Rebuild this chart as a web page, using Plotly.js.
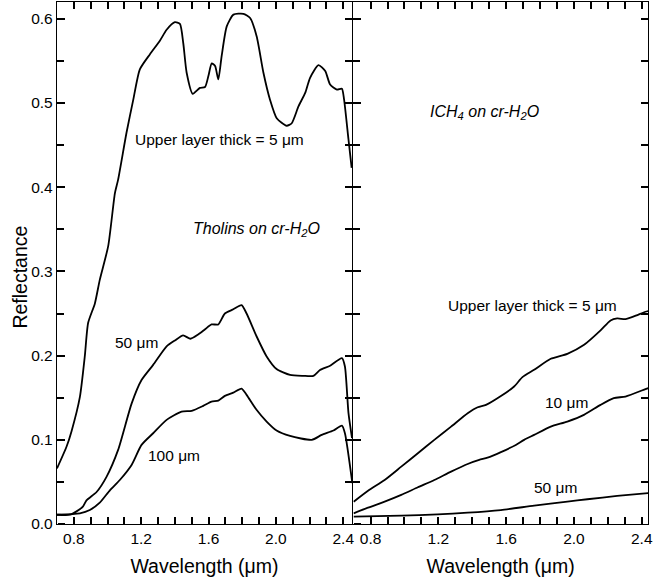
<!DOCTYPE html>
<html>
<head>
<meta charset="utf-8">
<script src="https://cdn.plot.ly/plotly-3.0.1.min.js"></script>
<style>html,body{margin:0;padding:0;background:#fff;}</style>
</head>
<body>
<div id="chart" style="width:670px;height:583px;"></div>
<script>
// ---- Tholins on cr-H2O (left panel) ----
const tholin5_x = [0.70,0.757,0.786,0.836,0.865,0.885,0.925,0.954,1.004,1.044,1.063,1.113,1.153,1.192,1.252,1.311,1.351,1.40,1.43,1.45,1.47,1.506,1.549,1.579,1.599,1.619,1.639,1.658,1.678,1.708,1.748,1.807,1.847,1.886,1.926,1.965,2.005,2.064,2.094,2.134,2.174,2.203,2.253,2.293,2.322,2.362,2.392,2.405,2.431,2.45];
const tholin5_y = [0.066,0.092,0.110,0.151,0.199,0.239,0.262,0.290,0.330,0.393,0.409,0.465,0.504,0.540,0.558,0.574,0.587,0.596,0.594,0.571,0.536,0.511,0.518,0.519,0.532,0.547,0.544,0.528,0.556,0.591,0.605,0.606,0.601,0.579,0.536,0.504,0.482,0.473,0.476,0.496,0.512,0.530,0.545,0.538,0.522,0.516,0.517,0.504,0.457,0.423];

const tholin50_x = [0.70,0.777,0.816,0.855,0.875,0.935,0.994,1.063,1.143,1.202,1.271,1.351,1.40,1.449,1.493,1.538,1.578,1.618,1.658,1.697,1.747,1.796,1.826,1.885,1.945,2.004,2.084,2.163,2.223,2.262,2.322,2.392,2.41,2.431,2.452];
const tholin50_y = [0.011,0.011,0.015,0.021,0.028,0.038,0.056,0.088,0.143,0.171,0.189,0.211,0.218,0.224,0.220,0.225,0.231,0.237,0.237,0.250,0.255,0.260,0.250,0.223,0.199,0.184,0.177,0.176,0.176,0.183,0.188,0.197,0.187,0.132,0.102];

const tholin100_x = [0.70,0.836,0.895,0.954,1.014,1.073,1.143,1.202,1.271,1.351,1.44,1.50,1.568,1.618,1.658,1.697,1.747,1.796,1.826,1.885,1.945,2.004,2.084,2.213,2.272,2.342,2.392,2.41,2.454];
const tholin100_y = [0.011,0.0127,0.0166,0.0253,0.040,0.0523,0.0702,0.094,0.1078,0.1237,0.1335,0.1344,0.1403,0.1454,0.1466,0.1522,0.1561,0.1609,0.1534,0.1356,0.1216,0.111,0.1046,0.0999,0.1058,0.111,0.1169,0.1078,0.0484];

// ---- ICH4 on cr-H2O (right panel) ----
const ich5_x = [0.70,0.785,0.883,0.981,1.079,1.176,1.275,1.373,1.432,1.481,1.569,1.647,1.696,1.765,1.863,1.961,2.06,2.157,2.216,2.255,2.304,2.353,2.422,2.44];
const ich5_y = [0.0265,0.0396,0.0523,0.0681,0.0841,0.0999,0.1157,0.1316,0.1387,0.1415,0.1520,0.1633,0.1744,0.1831,0.1962,0.2021,0.2128,0.2299,0.2418,0.2441,0.2434,0.2465,0.2521,0.2530];

const ich10_x = [0.70,0.785,0.883,0.981,1.079,1.176,1.275,1.373,1.441,1.49,1.569,1.657,1.706,1.765,1.863,1.961,2.059,2.157,2.235,2.304,2.422,2.44];
const ich10_y = [0.0127,0.0194,0.0265,0.0345,0.0436,0.0523,0.0622,0.0713,0.0761,0.0788,0.0854,0.0939,0.0999,0.1058,0.1157,0.1216,0.1296,0.1415,0.1495,0.1514,0.1602,0.1615];

const ich50_x = [0.70,0.981,1.196,1.373,1.569,1.765,1.961,2.079,2.255,2.44];
const ich50_y = [0.0087,0.0099,0.0115,0.0134,0.0166,0.0218,0.0265,0.0294,0.0333,0.0368];

// ---- ticks ----
const xTickVals = [0.8,1.2,1.6,2.0,2.4];
const xTickText = ['0.8','1.2','1.6','2.0','2.4'];
const xMinorVals = [0.9,1.0,1.1,1.3,1.4,1.5,1.7,1.8,1.9,2.1,2.2,2.3];
const yTickVals = [0.0,0.1,0.2,0.3,0.4,0.5,0.6];
const yTickText = ['0.0','0.1','0.2','0.3','0.4','0.5','0.6'];
const yMinorVals = [0.05,0.15,0.25,0.35,0.45,0.55];

const FONT = 'Liberation Sans, Arial, sans-serif';
const line = {color:'black', width:1.8, shape:'spline', smoothing:0.6};

const traces = [
  {x:tholin5_x, y:tholin5_y, xaxis:'x', yaxis:'y'},
  {x:tholin50_x, y:tholin50_y, xaxis:'x', yaxis:'y'},
  {x:tholin100_x, y:tholin100_y, xaxis:'x', yaxis:'y'},
  {x:ich5_x, y:ich5_y, xaxis:'x2', yaxis:'y2'},
  {x:ich10_x, y:ich10_y, xaxis:'x2', yaxis:'y2'},
  {x:ich50_x, y:ich50_y, xaxis:'x2', yaxis:'y2'},
  // empty carriers so the extra tick-mark axes get drawn
  {x:[null], y:[null], xaxis:'x3', yaxis:'y'},
  {x:[null], y:[null], xaxis:'x4', yaxis:'y2'},
  {x:[null], y:[null], xaxis:'x', yaxis:'y3'},
  {x:[null], y:[null], xaxis:'x2', yaxis:'y4'}
].map(t => Object.assign(t, {type:'scatter', mode:'lines', line:line, showlegend:false, hoverinfo:'skip'}));

const LW = 1.3;
const D1 = [0, 295/591];
const D2 = [296.3/591, 1];
const XR1 = [0.70, 2.452];
const XR2 = [0.698, 2.437];
const YR = [0, 0.62];
const MAJ = 7, MIN = 4.5, TW = 1.5;

function mainX(domain, range, anchor) {
  return {
    domain: domain, range: range, anchor: anchor,
    tickmode:'array', tickvals:xTickVals, ticktext:xTickText,
    ticks:'inside', ticklen:MAJ, tickwidth:TW, tickcolor:'black',
    minor:{tickmode:'array', tickvals:xMinorVals, ticks:'inside', ticklen:MIN, tickwidth:TW, tickcolor:'black', showgrid:false},
    showline:true, linecolor:'black', linewidth:LW, mirror:'allticks',
    showgrid:false, zeroline:false,
    tickfont:{family:FONT, size:15.5, color:'black'},
    title:{text:'Wavelength (μm)', font:{family:FONT, size:19.5, color:'black'}, standoff:13}
  };
}
function mainY(showLabels, anchor) {
  return {
    range:YR, anchor:anchor,
    tickmode:'array', tickvals:yTickVals, ticktext:yTickText,
    ticks:'inside', ticklen:MAJ, tickwidth:TW, tickcolor:'black',
    minor:{tickmode:'array', tickvals:yMinorVals, ticks:'inside', ticklen:MIN, tickwidth:TW, tickcolor:'black', showgrid:false},
    showline:true, linecolor:'black', linewidth:LW, mirror:'allticks',
    showgrid:false, zeroline:false, showticklabels:showLabels,
    tickfont:{family:FONT, size:15.5, color:'black'}
  };
}
// extra tick axes placed on the opposite edge with "outside" ticks, so their ticks point into the panel
function tickX(over, range, side, pos) {
  return {
    overlaying: over, range: range, anchor:'free', position: pos, side: side,
    tickmode:'array', tickvals:xTickVals, ticks:'outside', ticklen:MAJ, tickwidth:TW, tickcolor:'black',
    minor:{tickmode:'array', tickvals:xMinorVals, ticks:'outside', ticklen:MIN, tickwidth:TW, tickcolor:'black', showgrid:false},
    showticklabels:false, showline:false, showgrid:false, zeroline:false
  };
}
function tickY(over, side, pos) {
  return {
    overlaying: over, range: YR, anchor:'free', position: pos, side: side,
    tickmode:'array', tickvals:yTickVals, ticks:'outside', ticklen:MAJ, tickwidth:TW, tickcolor:'black',
    minor:{tickmode:'array', tickvals:yMinorVals, ticks:'outside', ticklen:MIN, tickwidth:TW, tickcolor:'black', showgrid:false},
    showticklabels:false, showline:false, showgrid:false, zeroline:false
  };
}

const layout = {
  width:670, height:583,
  margin:{l:57, r:22, t:2, b:59},
  paper_bgcolor:'white', plot_bgcolor:'white',
  xaxis: mainX(D1, XR1, 'y'),
  xaxis2: mainX(D2, XR2, 'y2'),
  yaxis: mainY(true, 'x'),
  yaxis2: mainY(false, 'x2'),
  xaxis3: tickX('x', XR1, 'top', 0),
  xaxis4: tickX('x2', XR2, 'top', 0),
  yaxis3: tickY('y', 'right', D1[0]),
  yaxis4: tickY('y2', 'right', D2[0]),
  annotations: [
    {text:'Reflectance', xref:'paper', yref:'paper', x:-0.0626, y:0.472, textangle:-90, showarrow:false,
     font:{family:FONT, size:19.5, color:'black'}, xanchor:'center', yanchor:'middle'},
    {text:'Upper layer thick = 5 μm', xref:'x', yref:'y', x:1.665, y:0.4566, showarrow:false, font:{family:FONT, size:15.5, color:'black'}},
    {text:'<i>Tholins on cr-H<sub>2</sub>O</i>', xref:'x', yref:'y', x:1.887, y:0.350, showarrow:false, font:{family:FONT, size:16, color:'black'}},
    {text:'50 μm', xref:'x', yref:'y', x:1.174, y:0.2152, showarrow:false, font:{family:FONT, size:15.5, color:'black'}},
    {text:'100 μm', xref:'x', yref:'y', x:1.397, y:0.0809, showarrow:false, font:{family:FONT, size:15.5, color:'black'}},
    {text:'<i>ICH<sub>4</sub> on cr-H<sub>2</sub>O</i>', xref:'x2', yref:'y2', x:1.475, y:0.489, showarrow:false, font:{family:FONT, size:16, color:'black'}},
    {text:'Upper layer thick = 5 μm', xref:'x2', yref:'y2', x:1.757, y:0.2592, showarrow:false, font:{family:FONT, size:15.5, color:'black'}},
    {text:'10 μm', xref:'x2', yref:'y2', x:1.954, y:0.1439, showarrow:false, font:{family:FONT, size:15.5, color:'black'}},
    {text:'50 μm', xref:'x2', yref:'y2', x:1.892, y:0.0428, showarrow:false, font:{family:FONT, size:15.5, color:'black'}}
  ]
};

Plotly.newPlot('chart', traces, layout, {displayModeBar:false});
</script>
</body>
</html>
